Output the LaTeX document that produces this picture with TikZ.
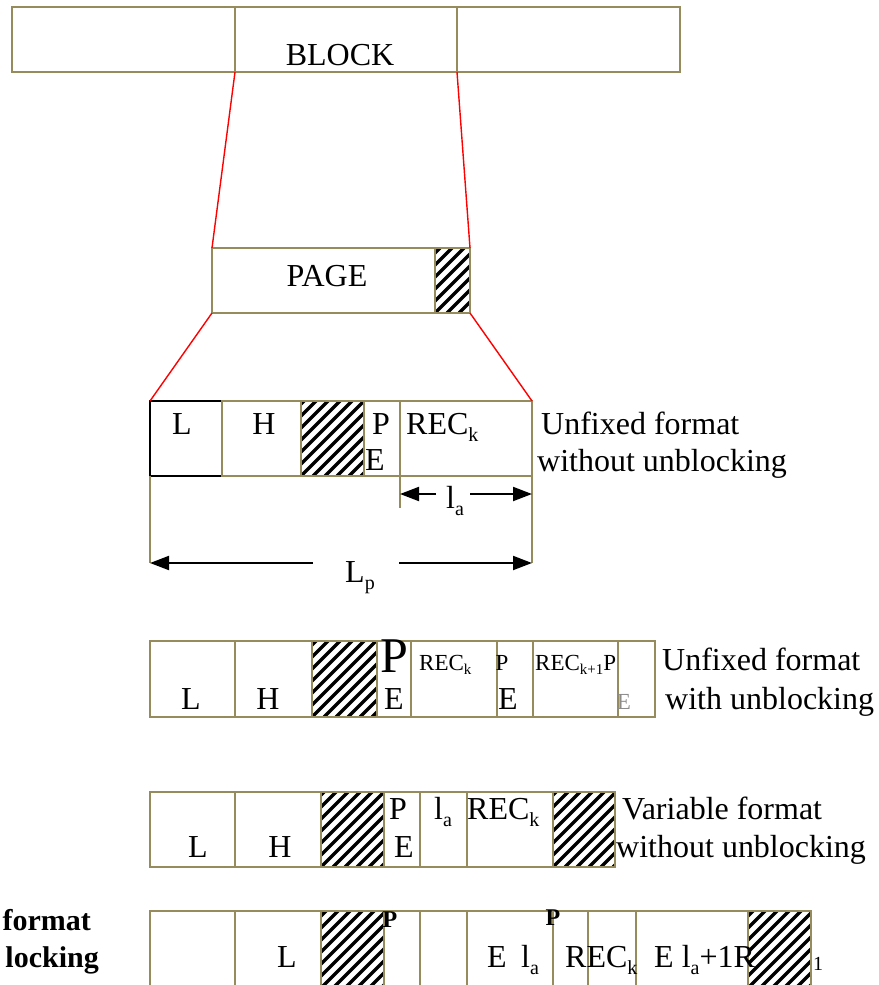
\documentclass[tikz,border=0pt]{standalone}
\usepackage{fontspec}
\setmainfont{Liberation Serif}
\usetikzlibrary{arrows.meta}
\definecolor{olivebd}{RGB}{150,139,92}
\newcommand\mysub[1]{\raisebox{-0.22em}{\fontsize{20}{20}\selectfont #1}}
\newcommand\smsub[1]{\raisebox{-0.2em}{\fontsize{15}{15}\selectfont #1}}
\tikzset{
  cellbox/.style={draw=olivebd, line width=1.6pt, inner sep=0pt, outer sep=0pt, anchor=north west},
  lbl/.style={inner sep=0pt, font=\fontsize{32}{38}\selectfont},
  smlbl/.style={inner sep=0pt, font=\fontsize{23}{27}\selectfont},
  redln/.style={draw=red, line width=1.4pt},
  dimln/.style={draw=olivebd, line width=1.6pt},
  dimarr/.style={line width=2pt, -{Triangle[length=19pt,width=14pt]}},
}
\newcommand\cell[6][]{\node[cellbox,#1, minimum width={#5-#3}, minimum height={#6-#4}] (#2) at (#3,#4) {};}
\newcommand\hatchit[4]{%
  \begin{scope}
    \clip (#1,#2) rectangle (#3,#4);
    \foreach \s in {-120,-108,...,140} {\draw[line width=3.4pt] (#1+\s,#4) -- ++(130,-130);}
  \end{scope}}
\begin{document}
\begin{tikzpicture}[x=1pt,y=-1pt]
\useasboundingbox (0,0) rectangle (878,985);
% BLOCK
\cell{blk1}{12}{7}{235}{72}
\cell{blk2}{235}{7}{457}{72}
\cell{blk3}{457}{7}{680}{72}
\node[lbl, anchor=base] (tblock) at (340,65) {BLOCK};
% PAGE
\cell{page}{212}{248}{435}{313}
\hatchit{435}{248}{470}{313}
\cell{pagehat}{435}{248}{470}{313}
\node[lbl, anchor=base] (tpage) at (327,286) {PAGE};
\draw[redln] (blk2.south west) -- (page.north west);
\draw[redln] (blk3.south west) -- (pagehat.north east);
% Row 1
\cell[draw=black]{ra1}{150}{401}{222}{476}
\cell{ra2}{222}{401}{301}{476}
\hatchit{301}{401}{364}{476}
\cell{ra3}{301}{401}{364}{476}
\cell{ra4}{364}{401}{400}{476}
\cell{ra5}{400}{401}{532}{476}
\draw[redln] (page.south west) -- (ra1.north west);
\draw[redln] (pagehat.south east) -- (ra5.north east);
\node[lbl, anchor=base] (ta1) at (182,434) {L};
\node[lbl, anchor=base] (ta2) at (264,434) {H};
\node[lbl, anchor=base] (ta3) at (381,434) {P};
\node[lbl, anchor=base] (ta4) at (375,470) {E};
\node[lbl, anchor=base west] (ta5) at (406,434) {REC\mysub{k}};
\node[lbl, anchor=base west] (ta6) at (541,434) {Unfixed format};
\node[lbl, anchor=base west] (ta7) at (537,471) {without unblocking};
% dimensions
\coordinate (la0) at (400,508);
\coordinate (lb0) at (532,563);
\coordinate (lc0) at (150,563);
\draw[dimln] (ra5.south west) -- (la0);
\draw[dimln] (ra5.south east) -- (lb0);
\draw[dimln] (ra1.south west) -- (lc0);
\coordinate (laL) at (400,494);
\coordinate (laR) at (532,494);
\coordinate (lagL) at (436,494);
\coordinate (lagR) at (470,494);
\draw[dimarr] (lagL) -- (laL);
\draw[dimarr] (lagR) -- (laR);
\node[lbl, anchor=base] (tla) at (455,508) {l\mysub{a}};
\coordinate (lpL) at (150,563);
\coordinate (lpR) at (532,563);
\coordinate (lpgL) at (313,563);
\coordinate (lpgR) at (399,563);
\draw[dimarr] (lpgL) -- (lpL);
\draw[dimarr] (lpgR) -- (lpR);
\node[lbl, anchor=base] (tlp) at (360,582) {L\mysub{p}};
% Row 2
\cell{rb1}{150}{641}{235}{717}
\cell{rb2}{235}{641}{312}{717}
\hatchit{312}{641}{377}{717}
\cell{rb3}{312}{641}{377}{717}
\cell{rb4}{377}{641}{411}{717}
\cell{rb5}{411}{641}{497}{717}
\cell{rb6}{497}{641}{533}{717}
\cell{rb7}{533}{641}{618}{717}
\cell{rb8}{618}{641}{655}{717}
\node[lbl, anchor=base] (tb1) at (191,709) {L};
\node[lbl, anchor=base] (tb2) at (268,709) {H};
\node[inner sep=0pt, anchor=base, font=\fontsize{50}{50}\selectfont] (tb3) at (394,672) {P};
\node[lbl, anchor=base] (tb4) at (394,709) {E};
\node[smlbl, anchor=base west] (tb5) at (419,670) {REC\smsub{k}};
\node[smlbl, anchor=base] (tb6) at (502,670) {P};
\node[lbl, anchor=base] (tb7) at (508,709) {E};
\node[smlbl, anchor=base west] (tb8) at (535,670) {REC\smsub{k+1}P};
\node[smlbl, anchor=base, text=black!45] (tb9) at (624,709) {E};
\node[lbl, anchor=base west] (tb10) at (662,670) {Unfixed format};
\node[lbl, anchor=base west] (tb11) at (665,709) {with unblocking};
% Row 3
\cell{rc1}{150}{792}{235}{867}
\cell{rc2}{235}{792}{321}{867}
\hatchit{321}{792}{384}{867}
\cell{rc3}{321}{792}{384}{867}
\cell{rc4}{384}{792}{420}{867}
\cell{rc5}{420}{792}{467}{867}
\cell{rc6}{467}{792}{553}{867}
\hatchit{553}{792}{615}{867}
\cell{rc7}{553}{792}{615}{867}
\node[lbl, anchor=base] (tc1) at (198,857) {L};
\node[lbl, anchor=base] (tc2) at (280,857) {H};
\node[lbl, anchor=base] (tc3) at (398,819) {P};
\node[lbl, anchor=base] (tc4) at (404,857) {E};
\node[lbl, anchor=base] (tc5) at (443,819) {l\mysub{a}};
\node[lbl, anchor=base west] (tc6) at (467,819) {REC\mysub{k}};
\node[lbl, anchor=base west] (tc7) at (622,819) {Variable format};
\node[lbl, anchor=base west] (tc8) at (616,857) {without unblocking};
% Row 4
\cell{rd1}{150}{911}{235}{1000}
\cell{rd2}{235}{911}{321}{1000}
\hatchit{321}{911}{384}{1000}
\cell{rd3}{321}{911}{384}{1000}
\cell{rd4}{384}{911}{420}{1000}
\cell{rd5}{420}{911}{467}{1000}
\cell{rd6}{467}{911}{553}{1000}
\cell{rd7}{553}{911}{588}{1000}
\cell{rd8}{588}{911}{636}{1000}
\cell{rd9}{636}{911}{748}{1000}
\hatchit{748}{911}{811}{1000}
\cell{rd10}{748}{911}{811}{1000}
\node[lbl, anchor=base east, font=\fontsize{30}{36}\bfseries] (td1) at (91,930) {format};
\node[lbl, anchor=base east, font=\fontsize{30}{36}\bfseries] (td2) at (99,967) {locking};
\node[lbl, anchor=base] (td3) at (287,967) {L};
\node[inner sep=0pt, anchor=base, font=\fontsize{24}{28}\bfseries] (td4) at (390,927) {P};
\node[inner sep=0pt, anchor=base, font=\fontsize{24}{28}\bfseries] (td5) at (553,925) {P};
\node[lbl, anchor=base] (td6) at (497,967) {E};
\node[lbl, anchor=base] (td7) at (530,967) {l\mysub{a}};
\node[lbl, anchor=base west] (td8) at (565,967) {REC\mysub{k}};
\node[lbl, anchor=base west] (td9) at (654,967) {E l\mysub{a}+1R};
\node[inner sep=0pt, anchor=base, font=\fontsize{20}{20}\selectfont] (td10) at (818,970) {1};
\end{tikzpicture}
\end{document}
